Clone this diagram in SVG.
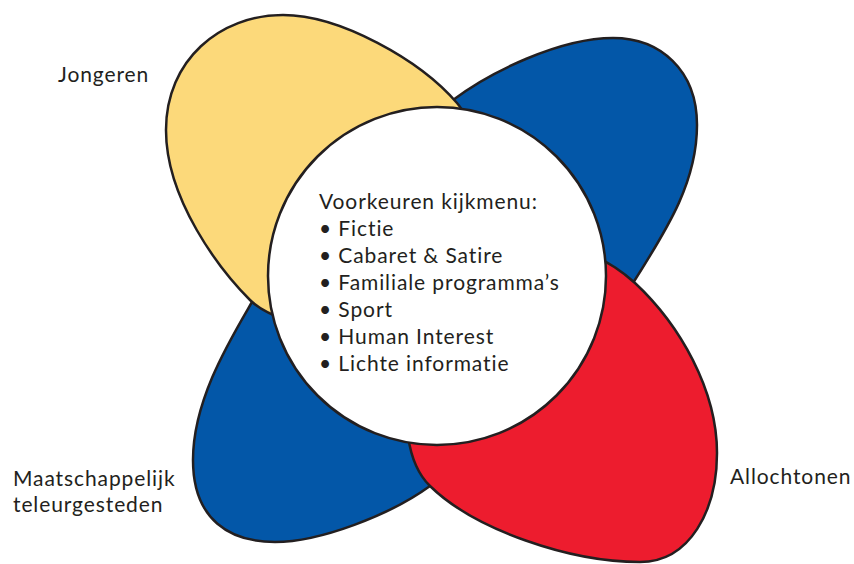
<svg xmlns="http://www.w3.org/2000/svg" width="854" height="564" viewBox="0 0 854 564">
<style>
.p{stroke:#231f20;stroke-width:2.5;stroke-linejoin:round}
.blue{fill:#0357a8}
.yellow{fill:#fcd97a}
.red{fill:#ed1c2e}
.t{font-family:Lato,"Noto Sans",sans-serif;font-size:21px;letter-spacing:0.9px;fill:#231f20;font-variant-ligatures:none}
</style>
<rect width="854" height="564" fill="#ffffff"/>
<g id="blue-top-right">
<path class="p blue" d="M440 300 C420 200 400 140 453 100 C490 72 560 38 613 38 C660 38 697 70 697 125 C697 180 670 225 633 283 C600 335 480 330 440 300 Z"/>
</g>
<g id="blue-bottom-left">
<path class="p blue" d="M340 220 C300 245 268 275 252 302 C230 340 193 400 193 460 C193 520 230 542 275 542 C320 542 390 515 430 486 C480 455 430 300 340 220 Z"/>
</g>
<g id="yellow">
<path class="p yellow" d="M470 350 C400 350 280 330 250 300 C220 270 166 200 166 130 C166 60 220 15 283 15 C340 15 420 60 457 103 C494 146 500 300 470 350 Z"/>
</g>
<g id="red">
<path class="p red" d="M520 235 C570 240 610 260 635 283 C680 325 717 390 717 453 C717 510 690 562 640 562 C570 562 475 530 430 486 C385 442 400 300 520 235 Z"/>
</g>
<g id="center">
<circle class="p" cx="437" cy="276" r="169" fill="#ffffff"/>
<text class="t" x="319" y="209">Voorkeuren kijkmenu:</text>
<text class="t" x="319" y="236">• Fictie</text>
<text class="t" x="319" y="263">• Cabaret &amp; Satire</text>
<text class="t" x="319" y="290">• Familiale programma’s</text>
<text class="t" x="319" y="317">• Sport</text>
<text class="t" x="319" y="344">• Human Interest</text>
<text class="t" x="319" y="371">• Lichte informatie</text>
</g>
<g id="labels">
<text class="t" x="58" y="82">Jongeren</text>
<text class="t" x="13" y="486">Maatschappelijk</text>
<text class="t" x="13" y="512">teleurgesteden</text>
<text class="t" x="730" y="484">Allochtonen</text>
</g>
</svg>
